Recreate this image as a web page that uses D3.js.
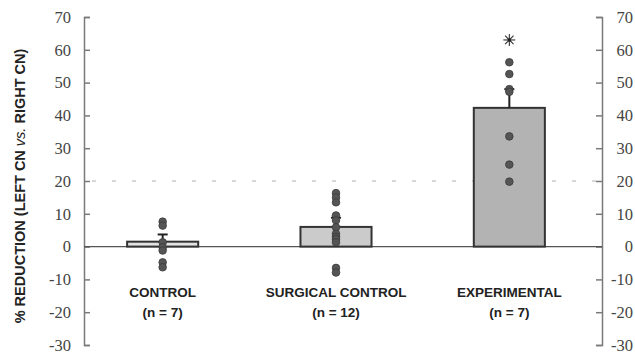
<!DOCTYPE html>
<html>
<head>
<meta charset="utf-8">
<script src="https://cdn.jsdelivr.net/npm/d3@7"></script>
<style>
  body { margin: 0; background: #fff; }
  svg { display: block; }
  .tickLabel text { font-family: "Liberation Serif", "DejaVu Serif", "Times New Roman", serif; }
</style>
</head>
<body>
<div id="chart"></div>
<script>
// Chart values
var groups = ["CONTROL", "SURGICAL CONTROL", "EXPERIMENTAL"];
var groupN = ["(n = 7)", "(n = 12)", "(n = 7)"];
var means = [1.5, 6, 42.3];
var errUp = [3.7, 8.8, 48];
var controlPts = [7.6, 6.4, 1.3, -0.2, -1.2, -4.8, -6.3];
var surgicalPts = [16.3, 15, 13.5, 9.5, 8, 5.9, 3.9, 3, 2.3, 1.3, -6.5, -7.9];
var experimentalPts = [56.2, 52.6, 48, 47.2, 33.6, 25, 19.8];
var yTicks = [70, 60, 50, 40, 30, 20, 10, 0, -10, -20, -30];
var thresholdValue = 20;
var starValue = 63;

var svgWidth = 635;
var svgHeight = 354;

var svg = d3.select("#chart")
  .append("svg")
  .attr("width", svgWidth)
  .attr("height", svgHeight);

// scales
var yScale = d3.scaleLinear()
  .domain([-30, 70])
  .range([345, 17]);

var xScale = d3.scaleBand()
  .domain(groups)
  .range([76, 596])
  .paddingInner(0.59)
  .paddingOuter(0.295);

var leftX = 84;
var rightX = 602;
var axisColor = "#7a7a7a";
var fills = ["#e2e2e2", "#cbcbcb", "#b3b3b3"];
var serifFont = "'Liberation Serif', 'DejaVu Serif', 'Times New Roman', serif";
var labelFont = "'Liberation Sans', Arial, sans-serif";

// dashed line at 20
svg.append("line")
  .attr("x1", leftX + 8)
  .attr("x2", rightX - 6)
  .attr("y1", yScale(thresholdValue))
  .attr("y2", yScale(thresholdValue))
  .attr("stroke", "#b0b0b0")
  .attr("stroke-width", 1)
  .attr("stroke-dasharray", "4,16");

// left axis
var leftAxis = d3.axisLeft(yScale)
  .tickValues(yTicks)
  .tickFormat(d => String(d))
  .tickSize(-6)
  .tickPadding(13);

var gLeft = svg.append("g")
  .attr("class", "tickLabel")
  .attr("transform", `translate(${leftX},0)`)
  .call(leftAxis);

// right axis, labels right-aligned at the edge
var rightAxis = d3.axisRight(yScale)
  .tickValues(yTicks)
  .tickFormat(d => String(d))
  .tickSize(-6)
  .tickPadding(31);

var gRight = svg.append("g")
  .attr("class", "tickLabel")
  .attr("transform", `translate(${rightX},0)`)
  .call(rightAxis);

gRight.selectAll(".tick text").attr("text-anchor", "end");

[gLeft, gRight].forEach(function(g) {
  g.attr("font-family", serifFont).attr("font-size", 16.5);
  g.select(".domain").attr("stroke", axisColor).attr("stroke-width", 1.5);
  g.selectAll(".tick line").attr("stroke", axisColor).attr("stroke-width", 1.5);
  g.selectAll(".tick text")
    .attr("fill", "#444")
    .attr("font-family", serifFont);
});

// zero line
svg.append("line")
  .attr("x1", leftX)
  .attr("x2", rightX)
  .attr("y1", yScale(0))
  .attr("y2", yScale(0))
  .attr("stroke", "#555")
  .attr("stroke-width", 1.3);

// bars
svg.selectAll(".bar")
  .data(groups)
  .enter()
  .append("rect")
  .attr("class", "bar")
  .attr("x", d => xScale(d))
  .attr("width", xScale.bandwidth())
  .attr("y", (d, i) => yScale(means[i]))
  .attr("height", (d, i) => yScale(0) - yScale(means[i]))
  .attr("fill", (d, i) => fills[i])
  .attr("stroke", "#333")
  .attr("stroke-width", 2);

// error bars (upper only)
var cx = d => xScale(d) + xScale.bandwidth() / 2;
svg.selectAll(".err")
  .data(groups)
  .enter()
  .append("line")
  .attr("x1", cx)
  .attr("x2", cx)
  .attr("y1", (d, i) => yScale(means[i]))
  .attr("y2", (d, i) => yScale(errUp[i]))
  .attr("stroke", "#222")
  .attr("stroke-width", 2);

svg.selectAll(".cap")
  .data(groups)
  .enter()
  .append("line")
  .attr("x1", d => cx(d) - 5)
  .attr("x2", d => cx(d) + 5)
  .attr("y1", (d, i) => yScale(errUp[i]))
  .attr("y2", (d, i) => yScale(errUp[i]))
  .attr("stroke", "#222")
  .attr("stroke-width", 2);

// individual points
var allPts = [controlPts, surgicalPts, experimentalPts];
allPts.forEach(function(pts, i) {
  svg.append("g")
    .selectAll("circle")
    .data(pts)
    .enter()
    .append("circle")
    .attr("cx", cx(groups[i]))
    .attr("cy", d => yScale(d))
    .attr("r", 3.8)
    .attr("fill", "#555")
    .attr("stroke", "#3a3a3a")
    .attr("stroke-width", 0.8);
});

// asterisk (8 thin arms)
var star = svg.append("g")
  .attr("transform", `translate(${cx(groups[2])}, ${yScale(starValue)})`);
[0, 45, 90, 135].forEach(function(a) {
  star.append("line")
    .attr("x1", -6)
    .attr("x2", 6)
    .attr("transform", `rotate(${a})`)
    .attr("stroke", "#333")
    .attr("stroke-width", 1.1);
});
star.append("circle").attr("r", 1.8).attr("fill", "#222");

// category labels
svg.selectAll(".catLabel")
  .data(groups)
  .enter()
  .append("text")
  .attr("x", cx)
  .attr("y", 297)
  .attr("text-anchor", "middle")
  .attr("fill", "#222")
  .style("font-family", labelFont)
  .style("font-weight", "bold")
  .style("font-size", "13.5px")
  .text(d => d);

svg.selectAll(".nLabel")
  .data(groups)
  .enter()
  .append("text")
  .attr("x", cx)
  .attr("y", 317)
  .attr("text-anchor", "middle")
  .attr("fill", "#222")
  .style("font-family", labelFont)
  .style("font-weight", "bold")
  .style("font-size", "13.5px")
  .text((d, i) => groupN[i]);

// y-axis title
var yTitle = svg.append("text")
  .attr("transform", "translate(25, 186) rotate(-90)")
  .attr("text-anchor", "middle")
  .attr("fill", "#222")
  .style("font-family", labelFont)
  .style("font-weight", "bold")
  .style("font-size", "14.5px");

yTitle.append("tspan").text("% REDUCTION (LEFT CN ");
yTitle.append("tspan").style("font-style", "italic").style("font-weight", "normal").text("vs.");
yTitle.append("tspan").text(" RIGHT CN)");
</script>
</body>
</html>
